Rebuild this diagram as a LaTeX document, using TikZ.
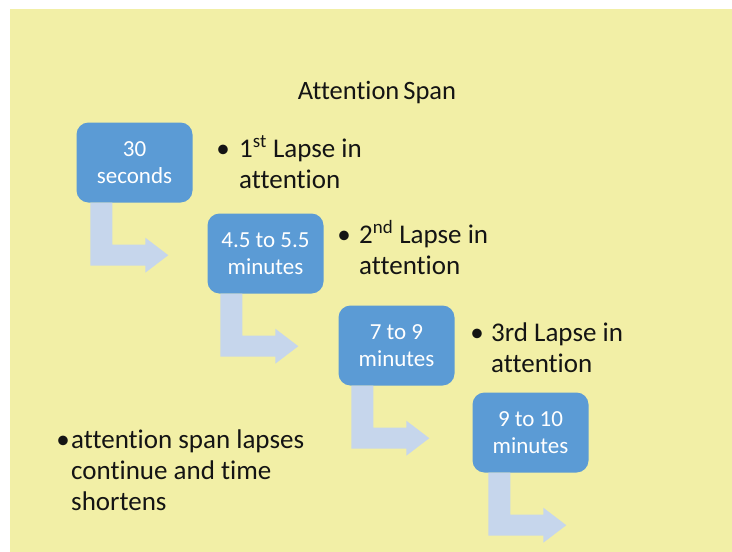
\documentclass[tikz,border=0pt]{standalone}
\usepackage{fontspec}
\setmainfont{Carlito}[Ligatures={NoCommon,NoRequired,NoContextual}]
\usetikzlibrary{calc}
\definecolor{bgyellow}{RGB}{242,239,166}
\definecolor{boxblue}{RGB}{91,155,213}
\definecolor{arrblue}{RGB}{198,214,236}
\definecolor{txtdark}{RGB}{20,20,20}
\begin{document}
\begin{tikzpicture}[x=1pt,y=-1pt,
  tbox/.style={rectangle, rounded corners=12pt, fill=boxblue, text=white,
    minimum width=116pt, minimum height=80pt, inner sep=0pt, align=center,
    font=\fontsize{23}{27}\selectfont},
  arr/.style={fill=arrblue, draw=none},
  line/.style={anchor=base west, inner sep=0pt, text=txtdark, font=\fontsize{27}{31}\selectfont},
  bul/.style={anchor=base, inner sep=0pt, text=txtdark, font=\fontsize{27}{31}\selectfont},
  ttl/.style={anchor=base, inner sep=0pt, text=txtdark, font=\fontsize{26.5}{30}\selectfont}]
\useasboundingbox (0,0) rectangle (732,552);
\fill[white] (0,0) rectangle (732,552);
\fill[bgyellow] (10,9) rectangle (732,552);

\node[ttl] (title) at (377,99) {Attention\hspace{-2pt} Span};

\node[tbox] (b1) at (134.5,162.5) {30\\seconds};
\node[tbox] (b2) at (265.5,253.5) {4.5 to 5.5\\minutes};
\node[tbox] (b3) at (396.5,345.5) {7 to 9\\minutes};
\node[tbox] (b4) at (530.5,432.5) {9 to 10\\minutes};

\foreach \b/\o in {b1/14,b2/13,b3/13,b4/16}{
  \fill[arr] ($(\b.south west)+(\o,0)$) -- ++(22,0) -- ++(0,42) -- ++(33,0)
    -- ++(0,-7) -- ++(23,17.5) -- ++(-23,17.5) -- ++(0,-7) -- ++(-55,0) -- cycle;
}

\node[bul] (d1) at (223,157) {•};
\node[line] (t1a) at (239,157) {1\textsuperscript{st} Lapse in};
\node[line] (t1b) at (239,188) {attention};

\node[bul] (d2) at (344,243) {•};
\node[line] (t2a) at (359,243) {2\textsuperscript{nd} Lapse in};
\node[line] (t2b) at (359,274) {attention};

\node[bul] (d3) at (477,341) {•};
\node[line] (t3a) at (491,341) {3rd Lapse in};
\node[line] (t3b) at (491,372) {attention};

\node[bul] (d4) at (63,448) {•};
\node[line] (t4a) at (71,448) {attention span lapses};
\node[line] (t4b) at (71,479) {continue and time};
\node[line] (t4c) at (71,510) {shortens};
\end{tikzpicture}
\end{document}
